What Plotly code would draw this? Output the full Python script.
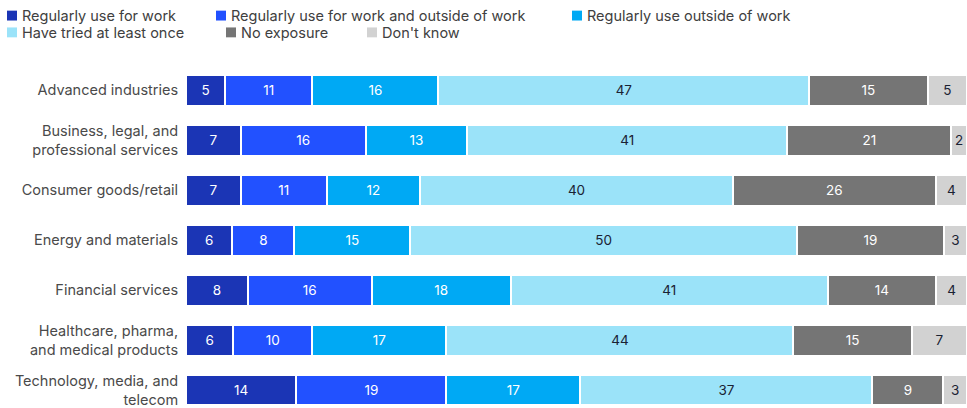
import plotly.graph_objects as go

# Industries, top to bottom
categories = [
    "Advanced industries",
    "Business, legal, and<br>professional services",
    "Consumer goods/retail",
    "Energy and materials",
    "Financial services",
    "Healthcare, pharma,<br>and medical products",
    "Technology, media, and<br>telecom",
]

series_names = [
    "Regularly use for work",
    "Regularly use for work and outside of work",
    "Regularly use outside of work",
    "Have tried at least once",
    "No exposure",
    "Don't know",
]

work_only = [5, 7, 7, 6, 8, 6, 14]
work_and_outside = [11, 16, 11, 8, 16, 10, 19]
outside_only = [16, 13, 12, 15, 18, 17, 17]
tried_once = [47, 41, 40, 50, 41, 44, 37]
no_exposure = [15, 21, 26, 19, 14, 15, 9]
dont_know = [5, 2, 4, 3, 4, 7, 3]

series_values = [work_only, work_and_outside, outside_only, tried_once, no_exposure, dont_know]

colors = ["#1B35B5", "#2251FF", "#00A9F4", "#9BE3F9", "#757575", "#D2D2D2"]
text_colors = ["#FFFFFF", "#FFFFFF", "#FFFFFF", "#1A2233", "#FFFFFF", "#1A2233"]

FONT = "Inter"
W_FIG, H_FIG = 967, 408
M_L, M_T = 186, 65
PLOT_W = W_FIG - M_L
PLOT_H = H_FIG - M_T

fig = go.Figure()
for name, vals, col, tcol in zip(series_names, series_values, colors, text_colors):
    fig.add_trace(go.Bar(
        name=name,
        y=categories,
        x=vals,
        orientation="h",
        marker=dict(color=col, line=dict(color="#FFFFFF", width=2)),
        width=0.62,
        text=vals,
        texttemplate="%{text}",
        textposition="inside",
        insidetextanchor="middle",
        textangle=0,
        constraintext="none",
        textfont=dict(family=FONT, size=13.5, color=tcol),
        hoverinfo="skip",
        showlegend=False,
    ))


def px_x(px):
    return (px - M_L) / PLOT_W


def px_y(py):
    return (H_FIG - py) / PLOT_H


# Custom legend: square swatch followed by its label, two rows
legend_slots = [(7, 15), (216, 15), (572, 15), (7, 32), (226, 32), (367, 32)]
shapes = []
annotations = []
for (sx, sy), name, col in zip(legend_slots, series_names, colors):
    shapes.append(dict(
        type="rect", xref="paper", yref="paper",
        x0=px_x(sx), x1=px_x(sx + 10),
        y0=px_y(sy + 5), y1=px_y(sy - 5),
        fillcolor=col, line=dict(width=0),
    ))
    annotations.append(dict(
        xref="paper", yref="paper",
        x=px_x(sx + 13), y=px_y(sy),
        xanchor="left", yanchor="middle",
        text=name, showarrow=False,
        font=dict(family=FONT, size=14.5, color="#404040"),
    ))

fig.update_layout(
    barmode="stack",
    barnorm="percent",
    width=W_FIG,
    height=H_FIG,
    margin=dict(l=M_L, r=0, t=M_T, b=0, pad=0),
    paper_bgcolor="#FFFFFF",
    plot_bgcolor="#FFFFFF",
    shapes=shapes,
    annotations=annotations,
    xaxis=dict(range=[0, 100], visible=False, fixedrange=True),
    yaxis=dict(
        range=[6.27, -0.5],
        showgrid=False, zeroline=False, showline=False,
        ticks="outside", ticklen=4, tickcolor="rgba(0,0,0,0)",
        tickfont=dict(family=FONT, size=14.5, color="#4A4A4A"),
        fixedrange=True,
    ),
    font=dict(family=FONT),
)

fig.write_html("out.html")
